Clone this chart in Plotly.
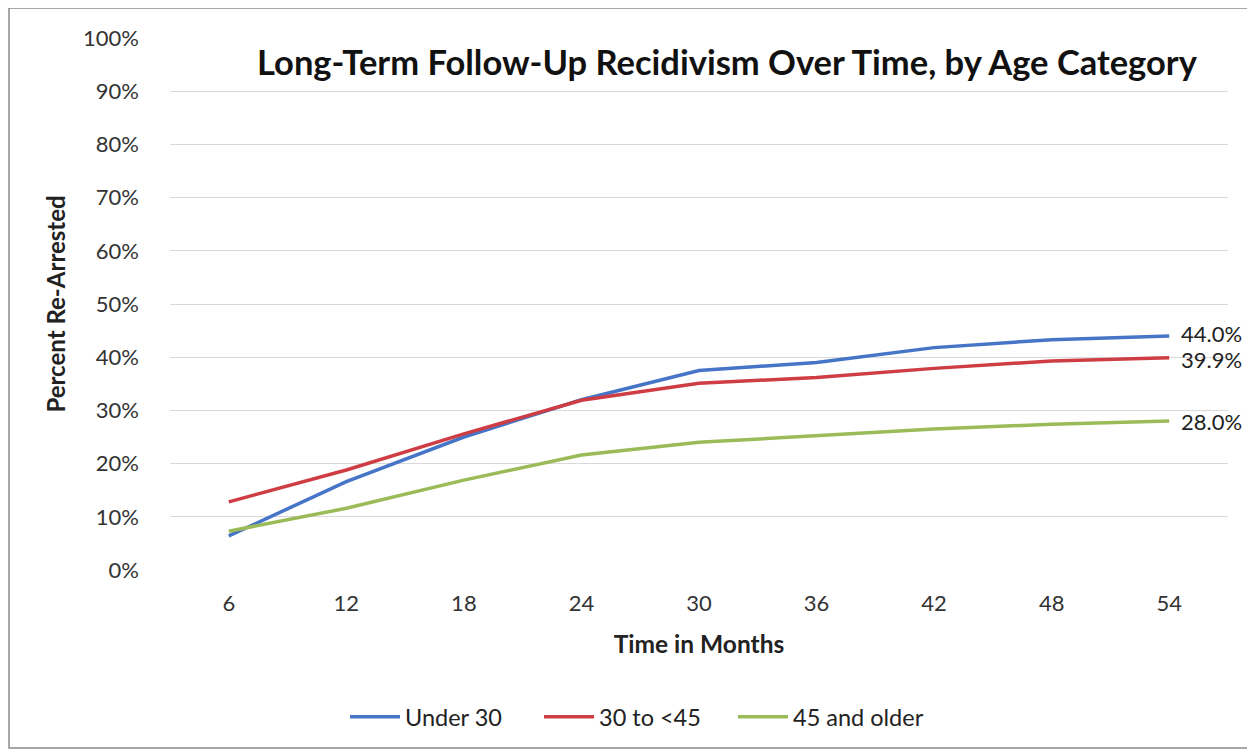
import plotly.graph_objects as go

# Data
months = ["6", "12", "18", "24", "30", "36", "42", "48", "54"]
under_30 = [0.064, 0.166, 0.250, 0.320, 0.375, 0.390, 0.418, 0.433, 0.440]
age_30_45 = [0.128, 0.188, 0.256, 0.319, 0.351, 0.362, 0.379, 0.393, 0.399]
age_45_up = [0.073, 0.116, 0.169, 0.216, 0.240, 0.253, 0.265, 0.274, 0.280]

names = ["Under 30", "30 to <45", "45 and older"]
colors = ["#4674C6", "#CF3D44", "#9BBB59"]
series = [under_30, age_30_45, age_45_up]
label_shift = [2, -2, 0]

font_family = "Lato, 'Open Sans', sans-serif"

# plot area in pixels (page is drawn with an 8px body offset)
L, T, PW, PH = 162, 30, 1058, 532

fig = go.Figure()
for name, vals, col in zip(names, series, colors):
    fig.add_trace(go.Scatter(x=months, y=vals, mode="lines", name=name,
                             line=dict(color=col, width=3.5)))

# End-of-line value labels
for vals, dy in zip(series, label_shift):
    fig.add_annotation(x=len(months) - 1, y=vals[-1], text=f"{vals[-1]*100:.1f}%",
                       xref="x", yref="y", xanchor="left", yanchor="middle",
                       xshift=10, yshift=dy, showarrow=False,
                       font=dict(size=22, color="#222222", family=font_family))

fig.update_layout(
    width=1255, height=753,
    margin=dict(l=L, r=1255 - L - PW, t=T, b=753 - T - PH),
    paper_bgcolor="white", plot_bgcolor="white",
    font=dict(family=font_family, color="#222222"),
    title=dict(text="<b>Long-Term Follow-Up Recidivism Over Time, by Age Category</b>",
               xref="paper", x=(719 - L) / PW, xanchor="center",
               y=1 - 55 / 753, yanchor="middle",
               font=dict(size=34.5, color="#111111")),
    legend=dict(orientation="h", x=(628 - L) / PW, xanchor="center",
                y=-(709 - (T + PH)) / PH, yanchor="middle",
                font=dict(size=23.5), itemwidth=50, tracegroupgap=0,
                entrywidth=129, entrywidthmode="pixels"),
    showlegend=True,
    shapes=[dict(type="rect", xref="paper", yref="paper",
                 x0=(1 - L) / PW, x1=(1242 - L) / PW,
                 y0=-(740 - (T + PH)) / PH, y1=1 + (T - 0) / PH,
                 line=dict(color="#8a8a8a", width=1.5))],
)

fig.update_xaxes(type="category", range=[-0.5, 8.5], showgrid=False, showline=False,
                 ticks="", tickfont=dict(size=22, color="#333333"), ticklabelstandoff=18,
                 title=dict(text="<b>Time in Months</b>", font=dict(size=24.5), standoff=20))
fig.update_yaxes(range=[0, 1], dtick=0.1, tickformat=".0%", showgrid=True,
                 gridcolor="#d9d9d9", gridwidth=1, zeroline=False, showline=False,
                 ticks="", tickfont=dict(size=22, color="#333333"), ticklabelstandoff=30,
                 title=dict(text="<b>Percent Re-Arrested</b>", font=dict(size=24), standoff=10))

fig.write_html("out.html")
